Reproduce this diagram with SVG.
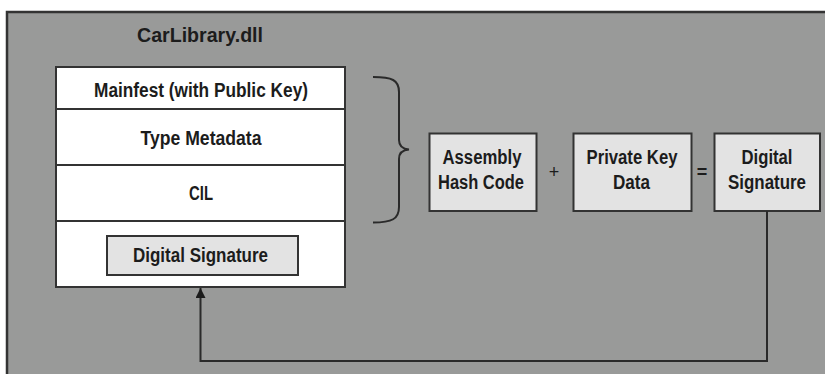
<svg xmlns="http://www.w3.org/2000/svg" width="825" height="374" viewBox="0 0 825 374">
<defs>
<style>
.t{font-family:"Liberation Sans",Arial,sans-serif;font-weight:bold;fill:#1c1c1c;text-anchor:middle}
.box{fill:#e3e3e3;stroke:#333;stroke-width:2}
.ln{fill:none;stroke:#2a2a2a;stroke-width:2}
</style>
<marker id="ah" viewBox="0 0 10 10" refX="10" refY="5" markerWidth="10" markerHeight="10" markerUnits="userSpaceOnUse" orient="auto">
<path d="M0,0 L10,5 L0,10 Z" fill="#1c1c1c"/>
</marker>
</defs>
<rect x="0" y="0" width="825" height="374" fill="#ffffff"/>
<rect x="7" y="12" width="830" height="380" fill="#999a99" stroke="#333" stroke-width="2.5"/>
<text class="t" x="200" y="42" font-size="21" textLength="126" lengthAdjust="spacingAndGlyphs">CarLibrary.dll</text>
<g id="assembly">
<rect x="56" y="67" width="289" height="220" fill="#fff" stroke="#333" stroke-width="2"/>
<line x1="56" y1="109" x2="345" y2="109" stroke="#333" stroke-width="2"/>
<line x1="56" y1="165" x2="345" y2="165" stroke="#333" stroke-width="2"/>
<line x1="56" y1="221" x2="345" y2="221" stroke="#333" stroke-width="2"/>
<text class="t" x="201" y="96.5" font-size="19.5" textLength="214" lengthAdjust="spacingAndGlyphs">Mainfest (with Public Key)</text>
<text class="t" x="201" y="145" font-size="19.5" textLength="121" lengthAdjust="spacingAndGlyphs">Type Metadata</text>
<text class="t" x="201" y="200" font-size="19.5" textLength="24" lengthAdjust="spacingAndGlyphs">CIL</text>
</g>
<g id="inner-sig">
<rect class="box" x="107" y="236" width="191" height="39"/>
<text class="t" x="200.5" y="261.5" font-size="19.5" textLength="135" lengthAdjust="spacingAndGlyphs">Digital Signature</text>
</g>
<g id="brace">
<path class="ln" d="M373,77 C392,77 399,80 399,92 V140 C399,146 402,149 409,149.5 C402,150 399,153 399,159 V207 C399,219 392,222.5 373,222.5"/>
</g>
<g id="hash">
<rect class="box" x="429.5" y="133.5" width="107" height="77.5"/>
<text class="t" x="482" y="163.5" font-size="19.5" textLength="79" lengthAdjust="spacingAndGlyphs">Assembly</text>
<text class="t" x="481" y="188.5" font-size="19.5" textLength="86" lengthAdjust="spacingAndGlyphs">Hash Code</text>
</g>
<text class="t" x="554" y="178" font-size="18" style="font-weight:normal">+</text>
<g id="privkey">
<rect class="box" x="573.5" y="133.5" width="118" height="77.5"/>
<text class="t" x="632" y="163.5" font-size="19.5" textLength="91" lengthAdjust="spacingAndGlyphs">Private Key</text>
<text class="t" x="631.5" y="188.5" font-size="19.5" textLength="37" lengthAdjust="spacingAndGlyphs">Data</text>
</g>
<text class="t" x="702" y="178" font-size="18">=</text>
<g id="digsig">
<rect class="box" x="714.5" y="133.5" width="105.5" height="77.5"/>
<text class="t" x="767" y="163.5" font-size="19.5" textLength="51" lengthAdjust="spacingAndGlyphs">Digital</text>
<text class="t" x="767" y="188.5" font-size="19.5" textLength="78" lengthAdjust="spacingAndGlyphs">Signature</text>
</g>
<g id="connectors">
<path class="ln" d="M767,211 V361 H200.5 V288" marker-end="url(#ah)"/>
</g>
</svg>
